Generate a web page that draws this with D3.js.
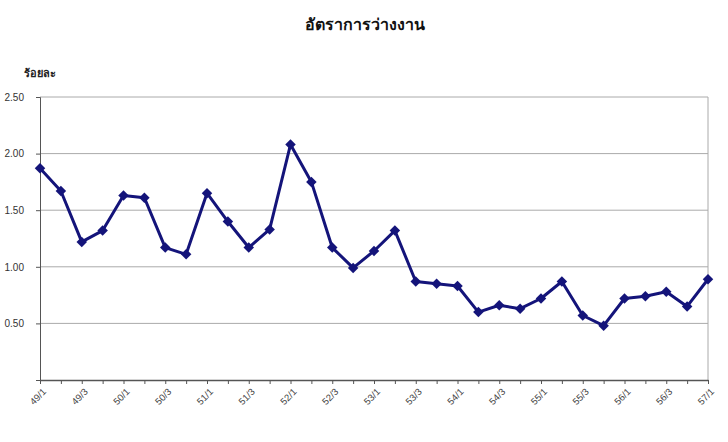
<!DOCTYPE html>
<html>
<head>
<meta charset="utf-8">
<script src="https://cdn.jsdelivr.net/npm/d3@7"></script>
<style>
	body { margin: 0; background: #fff; }
	svg { display: block; font-family: "Liberation Sans", Arial, sans-serif; }
</style>
</head>
<body>
<div id="chart"></div>
<script>
// quarters 49/1 .. 57/1
var years = [49, 50, 51, 52, 53, 54, 55, 56, 57];
var quarters = [];
years.forEach(function(y){
	for(var q=1;q<=4;q++){
		if(y==57 && q>1) break;
		quarters.push(y + "/" + q);
	}
});

var rates = [1.87, 1.67, 1.22, 1.32, 1.63, 1.61, 1.17, 1.11,
	1.65, 1.40, 1.17, 1.33, 2.08, 1.75, 1.17, 0.99,
	1.14, 1.32, 0.87, 0.85, 0.83, 0.60, 0.66, 0.63,
	0.72, 0.87, 0.57, 0.48, 0.72, 0.74, 0.78, 0.65,
	0.89];

var yTicks = [0.5, 1.0, 1.5, 2.0, 2.5];

var width = 728, height = 442;
var margin = {top: 97, right: 20, bottom: 62, left: 40};

var svg = d3.select("#chart").append("svg")
	.attr("width", width)
	.attr("height", height);

var x = d3.scalePoint()
	.domain(quarters)
	.range([margin.left, width - margin.right]);

var y = d3.scaleLinear()
	.domain([0, 2.5])
	.range([height - margin.bottom, margin.top]);

// title
svg.append("text")
	.attr("x", 365)
	.attr("y", 30)
	.attr("text-anchor", "middle")
	.style("font-family", "'Noto Sans', sans-serif")
	.style("font-size", "16px")
	.style("font-weight", "bold")
	.attr("fill", "#111")
	.text("อัตราการว่างงาน");

// unit label
svg.append("text")
	.attr("x", 24)
	.attr("y", 77)
	.style("font-family", "'Noto Sans', sans-serif")
	.style("font-size", "11px")
	.style("font-weight", "bold")
	.attr("fill", "#222")
	.text("ร้อยละ");

// gridlines
svg.append("g")
	.selectAll("line")
	.data(yTicks)
	.enter()
	.append("line")
	.attr("x1", margin.left)
	.attr("x2", width - margin.right)
	.attr("y1", function(d){return y(d);})
	.attr("y2", function(d){return y(d);})
	.attr("stroke", "#aaa")
	.attr("stroke-width", 1);

// right border
svg.append("line")
	.attr("x1", width - margin.right).attr("x2", width - margin.right)
	.attr("y1", margin.top).attr("y2", height - margin.bottom)
	.attr("stroke", "#aaa");

// y axis
var yAxis = svg.append("g")
	.attr("transform", "translate(" + margin.left + ",0)")
	.call(d3.axisLeft(y).tickValues([0].concat(yTicks)).tickSize(4)
		.tickFormat(function(d){return d==0 ? "" : d3.format(".2f")(d);}));
yAxis.select(".domain").attr("stroke", "#555");
yAxis.selectAll(".tick line").attr("stroke", "#555");
yAxis.selectAll("text")
	.attr("x", -16)
	.attr("fill", "#333")
	.style("font-size", "10px")
	.style("font-family", "'Liberation Sans', Arial, sans-serif");

// x axis
var xAxis = svg.append("g")
	.attr("transform", "translate(0," + (height - margin.bottom) + ")")
	.call(d3.axisBottom(x).tickSize(4).tickSizeOuter(0)
		.tickFormat(function(d,i){return i%2==0 ? d : "";}));
xAxis.select(".domain").attr("stroke", "#555").attr("stroke-width", 1.5);
xAxis.selectAll(".tick line").attr("stroke", "#555");
xAxis.selectAll("text")
	.attr("text-anchor", "end")
	.attr("dy", "0.35em")
	.attr("transform", "translate(4,10) rotate(-45)")
	.attr("x", 0)
	.attr("y", 0)
	.attr("fill", "#444")
	.style("font-size", "9.5px")
	.style("font-family", "'Liberation Sans', Arial, sans-serif");

// data line
var line = d3.line()
	.x(function(d,i){return x(quarters[i]);})
	.y(function(d){return y(d);});

svg.append("path")
	.datum(rates)
	.attr("d", line)
	.attr("fill", "none")
	.attr("stroke", "#14147a")
	.attr("stroke-width", 3)
	.attr("stroke-linejoin", "round");

svg.append("g")
	.selectAll("path")
	.data(rates)
	.enter()
	.append("path")
	.attr("d", d3.symbol().type(d3.symbolDiamond2).size(70))
	.attr("transform", function(d,i){return "translate(" + x(quarters[i]) + "," + y(d) + ")";})
	.attr("fill", "#14147a");
</script>
</body>
</html>
